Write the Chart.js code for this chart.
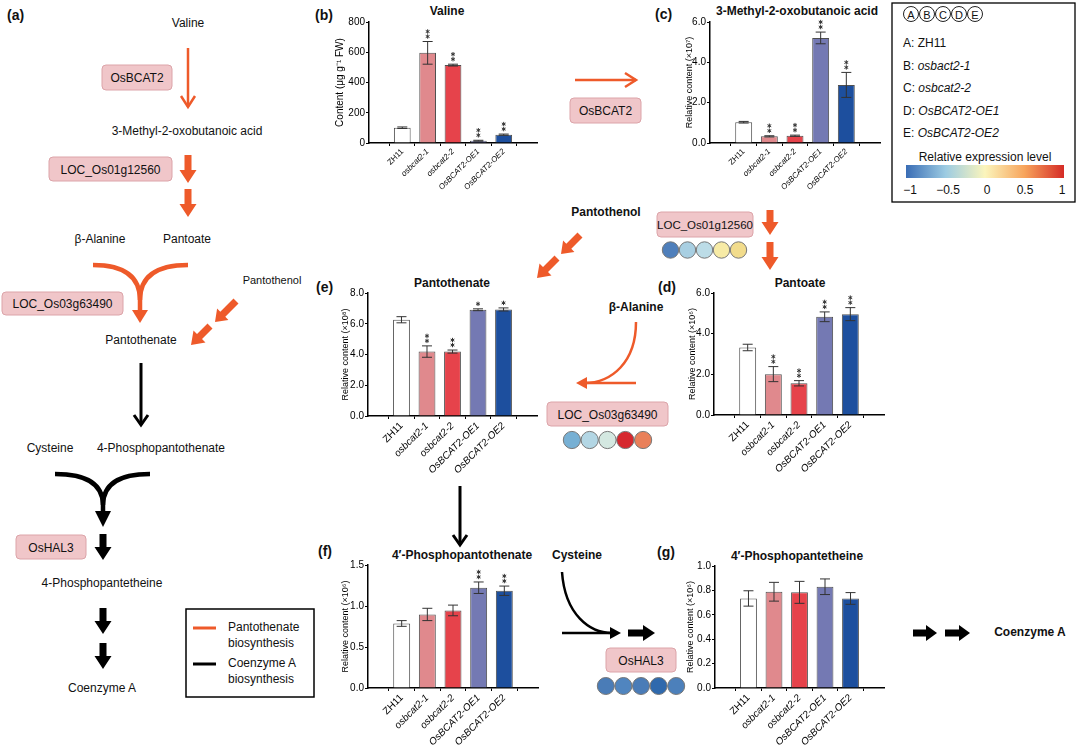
<!DOCTYPE html>
<html>
<head>
<meta charset="utf-8">
<script src="https://cdn.jsdelivr.net/npm/chart.js@4.4.1/dist/chart.umd.min.js"></script>
<style>
  body { margin: 0; background: #fff; width: 1080px; height: 747px; overflow: hidden; position: relative; }
  svg, canvas { position: absolute; }
  svg { left: 0; top: 0; }
</style>
</head>
<body>
<svg id="diagram" width="1080" height="747"></svg>
<canvas id="chartB"></canvas>
<canvas id="chartC"></canvas>
<canvas id="chartE"></canvas>
<canvas id="chartD"></canvas>
<canvas id="chartF"></canvas>
<canvas id="chartG"></canvas>
<script>
// genotypes and bar colours
var genotypes = ['ZH11', 'osbcat2-1', 'osbcat2-2', 'OsBCAT2-OE1', 'OsBCAT2-OE2'];
var barColors = ['#ffffff', '#e0898d', '#e6434b', '#7479b3', '#1d4f9e'];

// (b) Valine, µg/g FW
var valine = [101, 596, 515, 15, 55];
var valineErr = [5, 75, 6, 3, 4];
var valineStars = [0, 2, 2, 2, 2];

// (c) 3-Methyl-2-oxobutanoic acid
var oxobutanoic = [1.03, 0.33, 0.36, 5.21, 2.88];
var oxobutanoicErr = [0.04, 0.03, 0.03, 0.29, 0.62];
var oxobutanoicStars = [0, 2, 2, 2, 2];

// (e) Pantothenate
var pantothenate = [6.26, 4.19, 4.19, 6.91, 6.93];
var pantothenateErr = [0.2, 0.37, 0.1, 0.06, 0.1];
var pantothenateStars = [0, 2, 2, 1, 1];

// (d) Pantoate
var pantoate = [3.32, 2.01, 1.56, 4.83, 4.96];
var pantoateErr = [0.16, 0.37, 0.13, 0.24, 0.32];
var pantoateStars = [0, 2, 2, 2, 2];

// (f) 4'-Phosphopantothenate
var phosphopantothenate = [0.787, 0.897, 0.946, 1.223, 1.186];
var phosphopantothenateErr = [0.035, 0.075, 0.065, 0.07, 0.057];
var phosphopantothenateStars = [0, 0, 0, 2, 2];

// (g) 4'-Phosphopantetheine
var phosphopantetheine = [0.734, 0.789, 0.784, 0.83, 0.734];
var phosphopantetheineErr = [0.063, 0.077, 0.09, 0.064, 0.048];
var phosphopantetheineStars = [0, 0, 0, 0, 0];

// expression circles (A..E) under each gene
var exprLOC01 = ['#4f7fbb', '#a8cfe2', '#bcdce7', '#f7eba6', '#f2dc8c'];
var exprLOC03 = ['#77b0d4', '#b3d6e4', '#d4e8e1', '#d6282f', '#e9805a'];
var exprHAL3 = ['#4a7cb7', '#5085bf', '#4a7cb7', '#2f69ad', '#4c80bb'];

var FONT = '"Liberation Sans", Arial, sans-serif';
var ORANGE = '#ee5a2a';

// little asterisk made of three strokes
function star(ctx, x, y, r) {
  for (var a = 0; a < 3; a++) {
    var t = Math.PI / 2 + a * Math.PI / 3;
    ctx.moveTo(x - Math.cos(t) * r, y - Math.sin(t) * r);
    ctx.lineTo(x + Math.cos(t) * r, y + Math.sin(t) * r);
  }
}

var errorBars = {
  id: 'errorBars',
  afterDatasetsDraw: function(chart, args, opts) {
    var ctx = chart.ctx, y = chart.scales.y;
    var ds = chart.data.datasets[0];
    chart.getDatasetMeta(0).data.forEach(function(bar, i) {
      var v = ds.data[i].y, e = opts.err[i];
      var x = bar.x, yt = y.getPixelForValue(v + e), yb = y.getPixelForValue(v - e);
      ctx.save();
      ctx.strokeStyle = '#333';
      ctx.lineWidth = 1;
      ctx.beginPath();
      ctx.moveTo(x, yt); ctx.lineTo(x, yb);
      ctx.moveTo(x - 5, yt); ctx.lineTo(x + 5, yt);
      ctx.moveTo(x - 5, yb); ctx.lineTo(x + 5, yb);
      ctx.stroke();
      ctx.beginPath();
      for (var k = 0; k < opts.stars[i]; k++) {
        star(ctx, x, yt - 5 - k * 5, 2.2);
      }
      ctx.lineWidth = 1;
      ctx.stroke();
      ctx.restore();
    });
  }
};

function makeChart(id, c) {
  var pt = 8, pr = 4;
  var left = c.left - c.yw, top = c.top - pt;
  var w = c.right + pr - left, h = c.canvasBottom - top;
  var xh = c.canvasBottom - c.bottom;
  var cv = document.getElementById(id);
  cv.width = w; cv.height = h;
  cv.style.left = left + 'px'; cv.style.top = top + 'px';

  new Chart(cv, {
    type: 'bar',
    data: {
      datasets: [{
        data: c.values.map(function(v, i) { return {x: i, y: v}; }),
        backgroundColor: barColors,
        borderColor: '#505050',
        borderWidth: 1,
        barPercentage: 0.66,
        categoryPercentage: 1
      }]
    },
    options: {
      responsive: false,
      animation: false,
      layout: {padding: {top: pt, right: pr, left: 0, bottom: 0}},
      plugins: {
        legend: {display: false},
        tooltip: {enabled: false},
        errorBars: {err: c.err, stars: c.stars}
      },
      scales: {
        x: {
          type: 'linear', min: -0.65, max: 4.65,
          grid: {drawOnChartArea: false, drawTicks: true, tickLength: 3, color: '#000'},
          border: {color: '#000', width: 1.5},
          ticks: {
            stepSize: 1, includeBounds: false, autoSkip: false,
            minRotation: 45, maxRotation: 45, padding: 1, color: '#000',
            font: function(ctx) {
              return {family: FONT, size: c.xFont, style: ctx.index === 0 ? 'normal' : 'italic'};
            },
            callback: function(v) { return genotypes[v]; }
          },
          afterFit: function(s) { s.height = xh; }
        },
        y: {
          min: 0, max: c.yMax,
          grid: {drawOnChartArea: false, tickLength: 3, color: '#000'},
          border: {color: '#000', width: 1.5},
          ticks: {
            stepSize: c.step, padding: 1, color: '#000',
            font: {family: FONT, size: 10},
            callback: function(v) { return c.dec ? v.toFixed(1) : v; }
          },
          title: {display: true, text: c.yTitle, color: '#000', padding: 0, font: {family: FONT, size: c.tFont}},
          afterFit: function(s) { s.width = c.yw; }
        }
      }
    },
    plugins: [errorBars]
  });
}

makeChart('chartB', {values: valine, err: valineErr, stars: valineStars,
  left: 369, right: 537, top: 22, bottom: 143, yw: 35, canvasBottom: 192,
  yMax: 800, step: 200, dec: false, yTitle: 'Content (μg g⁻¹ FW)', tFont: 10, xFont: 8});
makeChart('chartC', {values: oxobutanoic, err: oxobutanoicErr, stars: oxobutanoicStars,
  left: 710, right: 880, top: 22, bottom: 143, yw: 26, canvasBottom: 192,
  yMax: 6, step: 2, dec: true, yTitle: 'Relative content (×10⁷)', tFont: 9, xFont: 8});
makeChart('chartE', {values: pantothenate, err: pantothenateErr, stars: pantothenateStars,
  left: 368, right: 537, top: 293, bottom: 416, yw: 28, canvasBottom: 505,
  yMax: 8, step: 2, dec: true, yTitle: 'Relative content (×10⁸)', tFont: 9, xFont: 10});
makeChart('chartD', {values: pantoate, err: pantoateErr, stars: pantoateStars,
  left: 714, right: 884, top: 293, bottom: 415, yw: 27, canvasBottom: 505,
  yMax: 6, step: 2, dec: true, yTitle: 'Relative content (×10⁶)', tFont: 9, xFont: 10});
makeChart('chartF', {values: phosphopantothenate, err: phosphopantothenateErr, stars: phosphopantothenateStars,
  left: 368, right: 538, top: 565, bottom: 688, yw: 28, canvasBottom: 747,
  yMax: 1.5, step: 0.5, dec: true, yTitle: 'Relative content (×10⁶)', tFont: 9, xFont: 10});
makeChart('chartG', {values: phosphopantetheine, err: phosphopantetheineErr, stars: phosphopantetheineStars,
  left: 715, right: 884, top: 566, bottom: 688, yw: 30, canvasBottom: 747,
  yMax: 1.0, step: 0.2, dec: true, yTitle: 'Relative content (×10⁶)', tFont: 9, xFont: 10});

// ---- pathway diagram ----
var out = [];
function text(x, y, s, size, bold, anchor, italic) {
  out.push('<text x="' + x + '" y="' + y + '" font-size="' + (size || 12) + '" font-weight="' + (bold ? 'bold' : 'normal') +
    '" font-style="' + (italic ? 'italic' : 'normal') + '" text-anchor="' + (anchor || 'middle') +
    '" dominant-baseline="central" fill="#111">' + s + '</text>');
}
function pbox(x, y, w, h, s, size) {
  out.push('<rect x="' + x + '" y="' + y + '" width="' + w + '" height="' + h + '" rx="4" fill="#f0c6c9" stroke="#dca4a9" stroke-width="1"/>');
  text(x + w / 2, y + h / 2 + 0.5, s, size || 12);
}
function block(x1, y1, x2, y2, color, sw, hw, hl) {
  sw = sw || 3.5; hw = hw || 8.5; hl = hl || 13;
  var dx = x2 - x1, dy = y2 - y1, L = Math.sqrt(dx * dx + dy * dy);
  var ux = dx / L, uy = dy / L, nx = -uy, ny = ux;
  var hx = x2 - ux * hl, hy = y2 - uy * hl;
  var p = [[x1 + nx * sw, y1 + ny * sw], [hx + nx * sw, hy + ny * sw], [hx + nx * hw, hy + ny * hw], [x2, y2],
    [hx - nx * hw, hy - ny * hw], [hx - nx * sw, hy - ny * sw], [x1 - nx * sw, y1 - ny * sw]];
  out.push('<polygon points="' + p.map(function(q) { return q[0].toFixed(1) + ',' + q[1].toFixed(1); }).join(' ') + '" fill="' + color + '"/>');
}
function vArrow(x1, y1, x2, y2, color, sw, hw, hl) {
  var dx = x2 - x1, dy = y2 - y1, L = Math.sqrt(dx * dx + dy * dy);
  var ux = dx / L, uy = dy / L, nx = -uy, ny = ux;
  var hx = x2 - ux * hl, hy = y2 - uy * hl;
  out.push('<line x1="' + x1 + '" y1="' + y1 + '" x2="' + x2 + '" y2="' + y2 + '" stroke="' + color + '" stroke-width="' + sw + '"/>');
  out.push('<polyline points="' + (hx + nx * hw) + ',' + (hy + ny * hw) + ' ' + x2 + ',' + y2 + ' ' + (hx - nx * hw) + ',' + (hy - ny * hw) +
    '" fill="none" stroke="' + color + '" stroke-width="' + sw + '" stroke-linejoin="miter"/>');
}
function tri(x, y, dir, color, hw, hl) {
  var p;
  if (dir === 'down') p = [[x - hw, y - hl], [x + hw, y - hl], [x, y]];
  else if (dir === 'left') p = [[x + hl, y - hw], [x + hl, y + hw], [x, y]];
  else p = [[x - hl, y - hw], [x - hl, y + hw], [x, y]];
  out.push('<polygon points="' + p.map(function(q) { return q.join(','); }).join(' ') + '" fill="' + color + '"/>');
}
function path(d, color, sw) {
  out.push('<path d="' + d + '" fill="none" stroke="' + color + '" stroke-width="' + sw + '"/>');
}
function circles(x0, y, d, colors) {
  colors.forEach(function(col, i) {
    out.push('<circle cx="' + (x0 + d / 2 + i * d) + '" cy="' + y + '" r="' + (d / 2 - 0.3) + '" fill="' + col + '" stroke="#777" stroke-width="1"/>');
  });
}

// panel letters
text(7, 15, '(a)', 14, true, 'start');
text(315, 15, '(b)', 14, true, 'start');
text(655, 14, '(c)', 14, true, 'start');
text(316, 287, '(e)', 14, true, 'start');
text(658, 287, '(d)', 14, true, 'start');
text(318, 551, '(f)', 14, true, 'start');
text(657, 552, '(g)', 14, true, 'start');

// chart titles
text(447, 11, 'Valine', 12, true);
text(797, 11, '3-Methyl-2-oxobutanoic acid', 12, true);
text(452, 283, 'Pantothenate', 12, true);
text(800, 283, 'Pantoate', 12, true);
text(462, 555, '4′-Phosphopantothenate', 12, true);
text(797, 556, '4′-Phosphopantetheine', 12, true);

// (a) pathway
text(188, 23, 'Valine', 12);
vArrow(188, 48, 188, 107, ORANGE, 2.5, 7, 11);
pbox(102, 65, 70, 25, 'OsBCAT2');
text(187, 131, '3-Methyl-2-oxobutanoic acid', 12);
pbox(49, 157, 123, 24, 'LOC_Os01g12560');
block(188, 155, 188, 183, ORANGE);
block(188, 189, 188, 217, ORANGE);
text(100, 239, 'β-Alanine', 12);
text(187, 239, 'Pantoate', 12);
path('M93,265 Q140,265 140,300 L140,312', ORANGE, 4.5);
path('M188,265 Q140,265 140,300', ORANGE, 4.5);
tri(140, 323, 'down', ORANGE, 8, 13);
pbox(2, 292, 121, 23, 'LOC_Os03g63490');
text(272, 280, 'Pantothenol', 11);
block(236, 301, 215, 322, ORANGE, 3.5, 8, 11);
block(210, 326, 191, 345, ORANGE, 3.5, 8.5, 12);
text(141, 340, 'Pantothenate', 12);
vArrow(141, 363, 141, 425, '#000', 3, 7, 10);
text(50, 448, 'Cysteine', 12);
text(161, 448, '4-Phosphopantothenate', 12);
path('M55,474 Q103,474 103,505 L103,512', '#000', 4.5);
path('M150,474 Q103,474 103,505', '#000', 4.5);
tri(103, 527, 'down', '#000', 8, 16);
pbox(16, 535, 70, 24, 'OsHAL3');
block(103, 534, 103, 560, '#000');
text(102, 583, '4-Phosphopantetheine', 12);
block(103, 608, 103, 634, '#000');
block(103, 643, 103, 669, '#000');
text(102, 688, 'Coenzyme A', 12);

// (a) legend
out.push('<rect x="186" y="609" width="128" height="88" fill="none" stroke="#000" stroke-width="1.5"/>');
out.push('<line x1="193" y1="628" x2="216" y2="628" stroke="' + ORANGE + '" stroke-width="3"/>');
out.push('<line x1="193" y1="664" x2="216" y2="664" stroke="#000" stroke-width="3"/>');
text(228, 627, 'Pantothenate', 12, false, 'start');
text(228, 643, 'biosynthesis', 12, false, 'start');
text(228, 663, 'Coenzyme A', 12, false, 'start');
text(228, 679, 'biosynthesis', 12, false, 'start');

// middle pathway pieces
vArrow(575, 80, 636, 80, ORANGE, 2.5, 7, 11);
pbox(570, 98, 71, 25, 'OsBCAT2');
text(606, 212, 'Pantothenol', 12, true);
block(580, 235, 561, 254, ORANGE, 3.5, 8, 11);
block(557, 258, 537, 278, ORANGE, 3.5, 8.5, 12);
pbox(657, 212, 96, 25, 'LOC_Os01g12560', 11.5);
circles(662, 250, 17, exprLOC01);
block(770, 210, 770, 235, ORANGE);
block(770, 242, 770, 270, ORANGE);
text(636, 307, 'β-Alanine', 12, true);
path('M636,322 C636,362 612,383 584,383', ORANGE, 2.5);
path('M636,383 L584,383', ORANGE, 2.5);
tri(576, 383, 'left', ORANGE, 6, 11);
pbox(547, 402, 121, 24, 'LOC_Os03g63490');
circles(563, 440, 17.8, exprLOC03);
vArrow(460, 486, 460, 545, '#000', 3, 7, 10);
text(577, 555, 'Cysteine', 12, true);
path('M562,572 C565,615 590,633 612,633', '#000', 2.5);
path('M562,633 L612,633', '#000', 2.5);
tri(621, 633, 'right', '#000', 6, 11);
block(628, 633, 655, 633, '#000', 3.5, 8, 12);
pbox(606, 648, 70, 24, 'OsHAL3');
circles(597, 686, 17.6, exprHAL3);
block(913, 633, 937, 633, '#000', 3.5, 8, 11);
block(945, 633, 970, 633, '#000', 3.5, 8, 11);
text(1030, 632, 'Coenzyme A', 12, true);

// top-right legend
out.push('<defs><linearGradient id="rdylbu" x1="0" x2="1" y1="0" y2="0">' +
  '<stop offset="0" stop-color="#3a6db5"/><stop offset="0.25" stop-color="#9ccbe2"/>' +
  '<stop offset="0.5" stop-color="#fbf5bc"/><stop offset="0.75" stop-color="#f7a45c"/>' +
  '<stop offset="1" stop-color="#d52b26"/></linearGradient></defs>');
out.push('<rect x="892" y="3" width="183" height="199" fill="none" stroke="#000" stroke-width="1.3"/>');
['A', 'B', 'C', 'D', 'E'].forEach(function(l, i) {
  out.push('<circle cx="' + (911 + i * 16) + '" cy="14" r="7.5" fill="#fff" stroke="#222" stroke-width="1"/>');
  text(911 + i * 16, 14.5, l, 11);
});
var legendLines = [['A: ', 'ZH11', false], ['B: ', 'osbact2-1', true], ['C: ', 'osbcat2-2', true],
  ['D: ', 'OsBCAT2-OE1', true], ['E: ', 'OsBCAT2-OE2', true]];
legendLines.forEach(function(r, i) {
  out.push('<text x="903" y="' + (43 + i * 22.5) + '" font-size="12" dominant-baseline="central" fill="#111">' + r[0] +
    '<tspan font-style="' + (r[2] ? 'italic' : 'normal') + '">' + r[1] + '</tspan></text>');
});
text(985, 157, 'Relative expression level', 12);
out.push('<rect x="906" y="165" width="158" height="13" fill="url(#rdylbu)"/>');
[['−1', 910], ['−0.5', 948], ['0', 987], ['0.5', 1025], ['1', 1062]].forEach(function(t) {
  text(t[1], 190, t[0], 12);
});

var svg = document.getElementById('diagram');
svg.setAttribute('font-family', FONT);
svg.innerHTML = out.join('');
</script>
</body>
</html>
